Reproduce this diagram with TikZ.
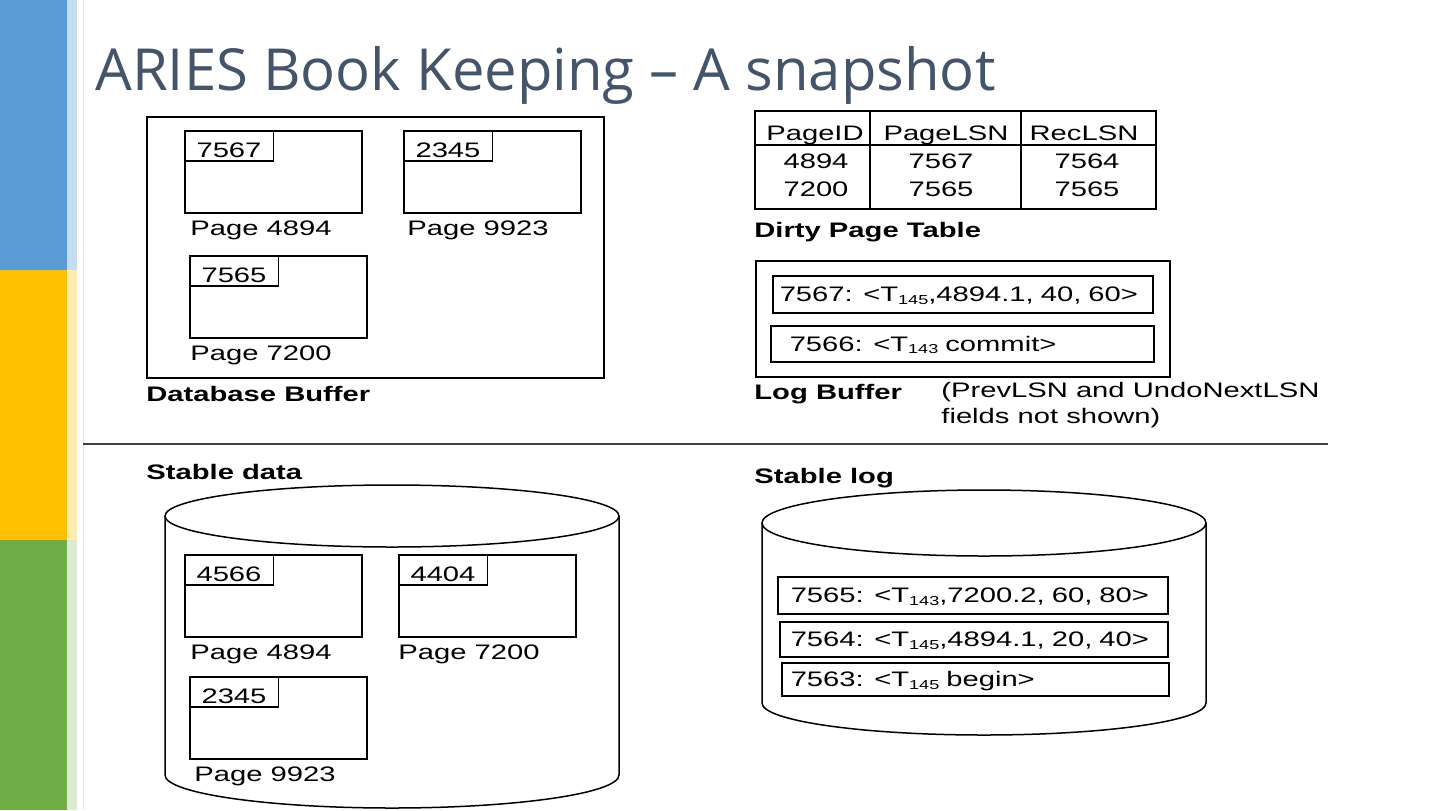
\documentclass[tikz,border=0pt]{standalone}
\usepackage{fontspec}
\setmainfont{Liberation Sans}[FakeStretch=1.39]
\newfontfamily\titlefont{Open Sans}
\usetikzlibrary{positioning}
\definecolor{barblue}{RGB}{91,155,213}
\definecolor{baryellow}{RGB}{255,192,0}
\definecolor{bargreen}{RGB}{112,173,71}
\definecolor{titlegray}{RGB}{68,84,106}
\newcommand{\tsub}[1]{\raisebox{-1.2pt}{\fontsize{6.5}{7}\selectfont #1}}

\begin{document}
\begin{tikzpicture}[x=0.5pt, y=-0.5pt,
  every node/.style={font=\fontsize{10.5}{13}\selectfont},
  frame/.style={draw, line width=0.75pt, anchor=north west, inner sep=0pt},
  page/.style={frame, minimum width=88.5pt, minimum height=41pt},
  tag/.style={frame, minimum width=44.25pt, minimum height=15pt,
              text height=12pt, text depth=0pt},
  pglabel/.style={anchor=base west, inner sep=0pt, yshift=-11pt},
  caption/.style={anchor=base west, inner sep=0pt,
                  font=\fontsize{10.5}{13}\selectfont\bfseries},
  rec/.style={frame, minimum height=18pt, text height=7.5pt, text depth=0pt, align=left},
  cell/.style={anchor=base, inner sep=0pt},
  disk/.style={line width=0.75pt}]
  \useasboundingbox (0,0) rectangle (1440,810);

  % slide bars on the left
  \fill[barblue] (0,0) rectangle (67,270);
  \fill[baryellow] (0,270) rectangle (67,540);
  \fill[bargreen] (0,540) rectangle (67,810);
  \fill[barblue!35] (67,0) rectangle (77,270);
  \fill[baryellow!30] (67,270) rectangle (77,540);
  \fill[bargreen!25] (67,540) rectangle (77,810);
  \draw[black!10, line width=0.5pt] (83,0) -- (83,810);

  \node[anchor=base west, inner sep=0pt, text=titlegray,
        font=\titlefont\fontsize{29}{35}\selectfont] (title) at (95,90)
       {ARIES Book Keeping – A snapshot};

  % database buffer and stable data pages
  \node[frame, minimum width=228.5pt, minimum height=130.5pt] (dbbuf) at (146,116) {};
  \node[caption] (dbcap) at (146,401) {Database Buffer};
  \foreach \nm/\px/\py/\lsn/\pid/\lx in {bufA/184/130/7567/4894/6, bufB/403/130/2345/9923/4,
      bufC/189/255/7565/7200/1, stA/184/554/4566/4894/6, stB/398/554/4404/7200/0,
      stC/189/676/2345/9923/5} {
    \node[page] (\nm) at (\px,\py) {};
    \node[tag] (\nm-lsn) at (\nm.north west) {\lsn};
    \node[pglabel, xshift=\lx*0.5pt] (\nm-lbl) at (\nm.south west) {Page \pid};
  }

  % dirty page table
  \node[frame, minimum width=200.5pt, minimum height=49pt] (dpt) at (754,110) {};
  \draw[line width=0.75pt] (754,145) -- (1155,145);
  \draw[line width=0.75pt] (870,110) -- (870,208);
  \draw[line width=0.75pt] (1021,110) -- (1021,208);
  \node[cell] (hid) at (815,140) {PageID};
  \node[cell] (hplsn) at (946,140) {PageLSN};
  \node[cell] (hrlsn) at (1084,140) {RecLSN};
  \node[cell] (id1) at (816,168) {4894};
  \node[cell] (plsn1) at (941,168) {7567};
  \node[cell] (rlsn1) at (1087,168) {7564};
  \node[cell] (id2) at (816,196) {7200};
  \node[cell] (plsn2) at (941,196) {7565};
  \node[cell] (rlsn2) at (1087,196) {7565};
  \node[caption] (dptcap) at (754,237) {Dirty Page Table};

  % log buffer
  \node[frame, minimum width=207pt, minimum height=58pt] (logbuf) at (755,260) {};
  \node[rec, minimum height=18.5pt, inner xsep=3.5pt, text width=183pt] (lbA) at (772,275)
       {7567: <T\tsub{145},4894.1, 40, 60>};
  \node[rec, inner xsep=9.5pt, text width=172.5pt] (lbB) at (770,325)
       {7566: <T\tsub{143} commit>};
  \node[caption] (lbcap) at (754,399) {Log Buffer};
  \node[anchor=base west, inner sep=0pt, align=left] (lbnote) at (941,423)
       {(PrevLSN and UndoNextLSN\\fields not shown)};

  \draw[black!75, line width=0.75pt] (83,444) -- (1328,444);

  % stable data
  \node[caption] (sdcap) at (146,479) {Stable data};
  \draw[disk] (392,516) ellipse [x radius=113.5pt, y radius=15.5pt];
  \draw[disk] (165,516) -- (165,775)
    arc[start angle=180, end angle=360, x radius=113.5pt, y radius=16.5pt] -- (619,516);

  % stable log
  \node[caption] (slcap) at (754,483) {Stable log};
  \draw[disk] (984,523) ellipse [x radius=111pt, y radius=16.5pt];
  \draw[disk] (762,523) -- (762,703)
    arc[start angle=180, end angle=360, x radius=111pt, y radius=16pt] -- (1206,523);
  \node[rec, minimum height=18.5pt, inner xsep=6.5pt, text width=182pt] (slA) at (777,576)
       {7565: <T\tsub{143},7200.2, 60, 80>};
  \node[rec, minimum height=17.5pt, inner xsep=5.5pt, text width=183pt] (slB) at (779,621)
       {7564: <T\tsub{145},4894.1, 20, 40>};
  \node[rec, minimum height=16.5pt, inner xsep=4.5pt, text width=184.5pt] (slC) at (781,662)
       {7563: <T\tsub{145} begin>};
\end{tikzpicture}
\end{document}
